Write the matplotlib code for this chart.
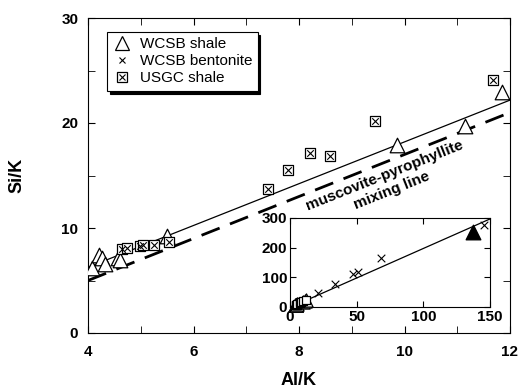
import numpy as np
import matplotlib
matplotlib.use("Agg")
import matplotlib.pyplot as plt
from matplotlib.lines import Line2D

plt.rcParams['font.family'] = ['Liberation Sans', 'DejaVu Sans']

# WCSB shale (open triangles)
shale_al = [4.07, 4.21, 4.27, 4.32, 4.57, 4.60, 5.50, 9.86, 11.15, 11.85]
shale_si = [6.2, 7.4, 7.1, 6.6, 7.1, 7.0, 9.2, 17.9, 19.7, 23.0]

# USGC shale (boxed crosses)
usgc_al = [4.65, 4.74, 4.99, 5.05, 5.25, 5.53, 7.41, 7.79, 8.21, 8.59, 9.44, 11.68]
usgc_si = [8.0, 8.1, 8.3, 8.4, 8.4, 8.7, 13.7, 15.5, 17.1, 16.9, 20.2, 24.1]

# WCSB bentonite (inset only)
bent_al = [21, 34, 47, 51, 68.5, 145.5]
bent_si = [48, 76, 111, 118, 165, 275]

# filled triangle in inset
solid_al = [137]
solid_si = [253]

# lines
fit_slope, fit_icpt = 1.99, -1.7
mix_slope, mix_icpt = 2.0, -3.0

fig = plt.figure(figsize=(5.18, 3.91), dpi=100)
ax = fig.add_axes([88/518, 1-333/391, (510-88)/518, (333-18)/391])

xl = np.array([4, 12])
ax.plot(xl, fit_slope*xl + fit_icpt, color='k', lw=0.9, zorder=1)
ax.plot(xl, mix_slope*xl + mix_icpt, color='k', lw=2.0, dashes=(7, 4), zorder=1)

ax.scatter(shale_al, shale_si, marker='^', s=110, facecolors='white',
           edgecolors='k', linewidths=0.9, zorder=3)
ax.scatter(usgc_al, usgc_si, marker='s', s=45, facecolors='white',
           edgecolors='k', linewidths=0.9, zorder=3)
ax.scatter(usgc_al, usgc_si, marker='x', s=22, c='k', linewidths=0.8, zorder=4)

ax.set_xlim(4, 12)
ax.set_ylim(0, 30)
ax.set_xticks([4, 6, 8, 10, 12])
ax.set_xticks([5, 7, 9, 11], minor=True)
ax.set_yticks([0, 10, 20, 30])
ax.set_yticks([5, 15, 25], minor=True)
ax.tick_params(which='both', direction='in', top=True, right=True,
               labelsize=11, length=5)
ax.tick_params(axis='x', pad=9)
ax.tick_params(axis='y', pad=7)
for lab in ax.get_xticklabels() + ax.get_yticklabels():
    lab.set_fontweight('bold')
ax.set_xlabel('Al/K', fontsize=13, fontweight='bold', labelpad=9)
ax.set_ylabel('Si/K', fontsize=13, fontweight='bold', labelpad=26)

ax.text(9.63, 15.0, 'muscovite-pyrophyllite', rotation=21.7,
        rotation_mode='anchor', ha='center', va='center', fontsize=11,
        fontweight='bold')
ax.text(9.76, 13.6, 'mixing line', rotation=21.7, rotation_mode='anchor',
        ha='center', va='center', fontsize=11, fontweight='bold')

h_tri = Line2D([], [], marker='^', ls='none', ms=10, mfc='white', mec='k', mew=0.9)
h_x = Line2D([], [], marker='x', ls='none', ms=4.5, color='k', mew=0.8)
h_sq = Line2D([], [], marker='s', ls='none', ms=7, mfc='white', mec='k', mew=0.9)
h_sqx = Line2D([], [], marker='x', ls='none', ms=4.5, color='k', mew=0.8)
leg = ax.legend([h_tri, h_x, (h_sq, h_sqx)],
                ['WCSB shale', 'WCSB bentonite', 'USGC shale'],
                loc='upper left', bbox_to_anchor=(19/422, 1-14/315),
                borderaxespad=0, fancybox=False,
                shadow={'color': 'k', 'alpha': 1}, framealpha=1,
                edgecolor='k', fontsize=11, handletextpad=0.6,
                borderpad=0.35, labelspacing=0.2, handlelength=1.2)
leg.get_frame().set_linewidth(0.8)

# inset
ins = fig.add_axes([290/518, 1-307/391, (490-290)/518, (307-218)/391])
xi = np.array([0, 150])
ins.plot(xi, fit_slope*xi + fit_icpt, color='k', lw=0.9, zorder=1)
ins.scatter(shale_al, shale_si, marker='^', s=90, facecolors='white',
            edgecolors='k', linewidths=0.9, zorder=3, clip_on=False)
ins.scatter(usgc_al, usgc_si, marker='s', s=30, facecolors='white',
            edgecolors='k', linewidths=0.9, zorder=3, clip_on=False)
ins.scatter(bent_al, bent_si, marker='x', s=30, c='k', linewidths=0.8, zorder=3)
ins.scatter(solid_al, solid_si, marker='^', s=110, c='k', zorder=3)
ins.set_xlim(0, 150)
ins.set_ylim(0, 300)
ins.set_xticks([0, 50, 100, 150])
ins.set_yticks([0, 100, 200, 300])
ins.tick_params(direction='in', top=True, right=True, length=4,
                labelsize=11, pad=2)
for lab in ins.get_xticklabels() + ins.get_yticklabels():
    lab.set_fontweight('bold')

fig.savefig('out.png', dpi=100)
